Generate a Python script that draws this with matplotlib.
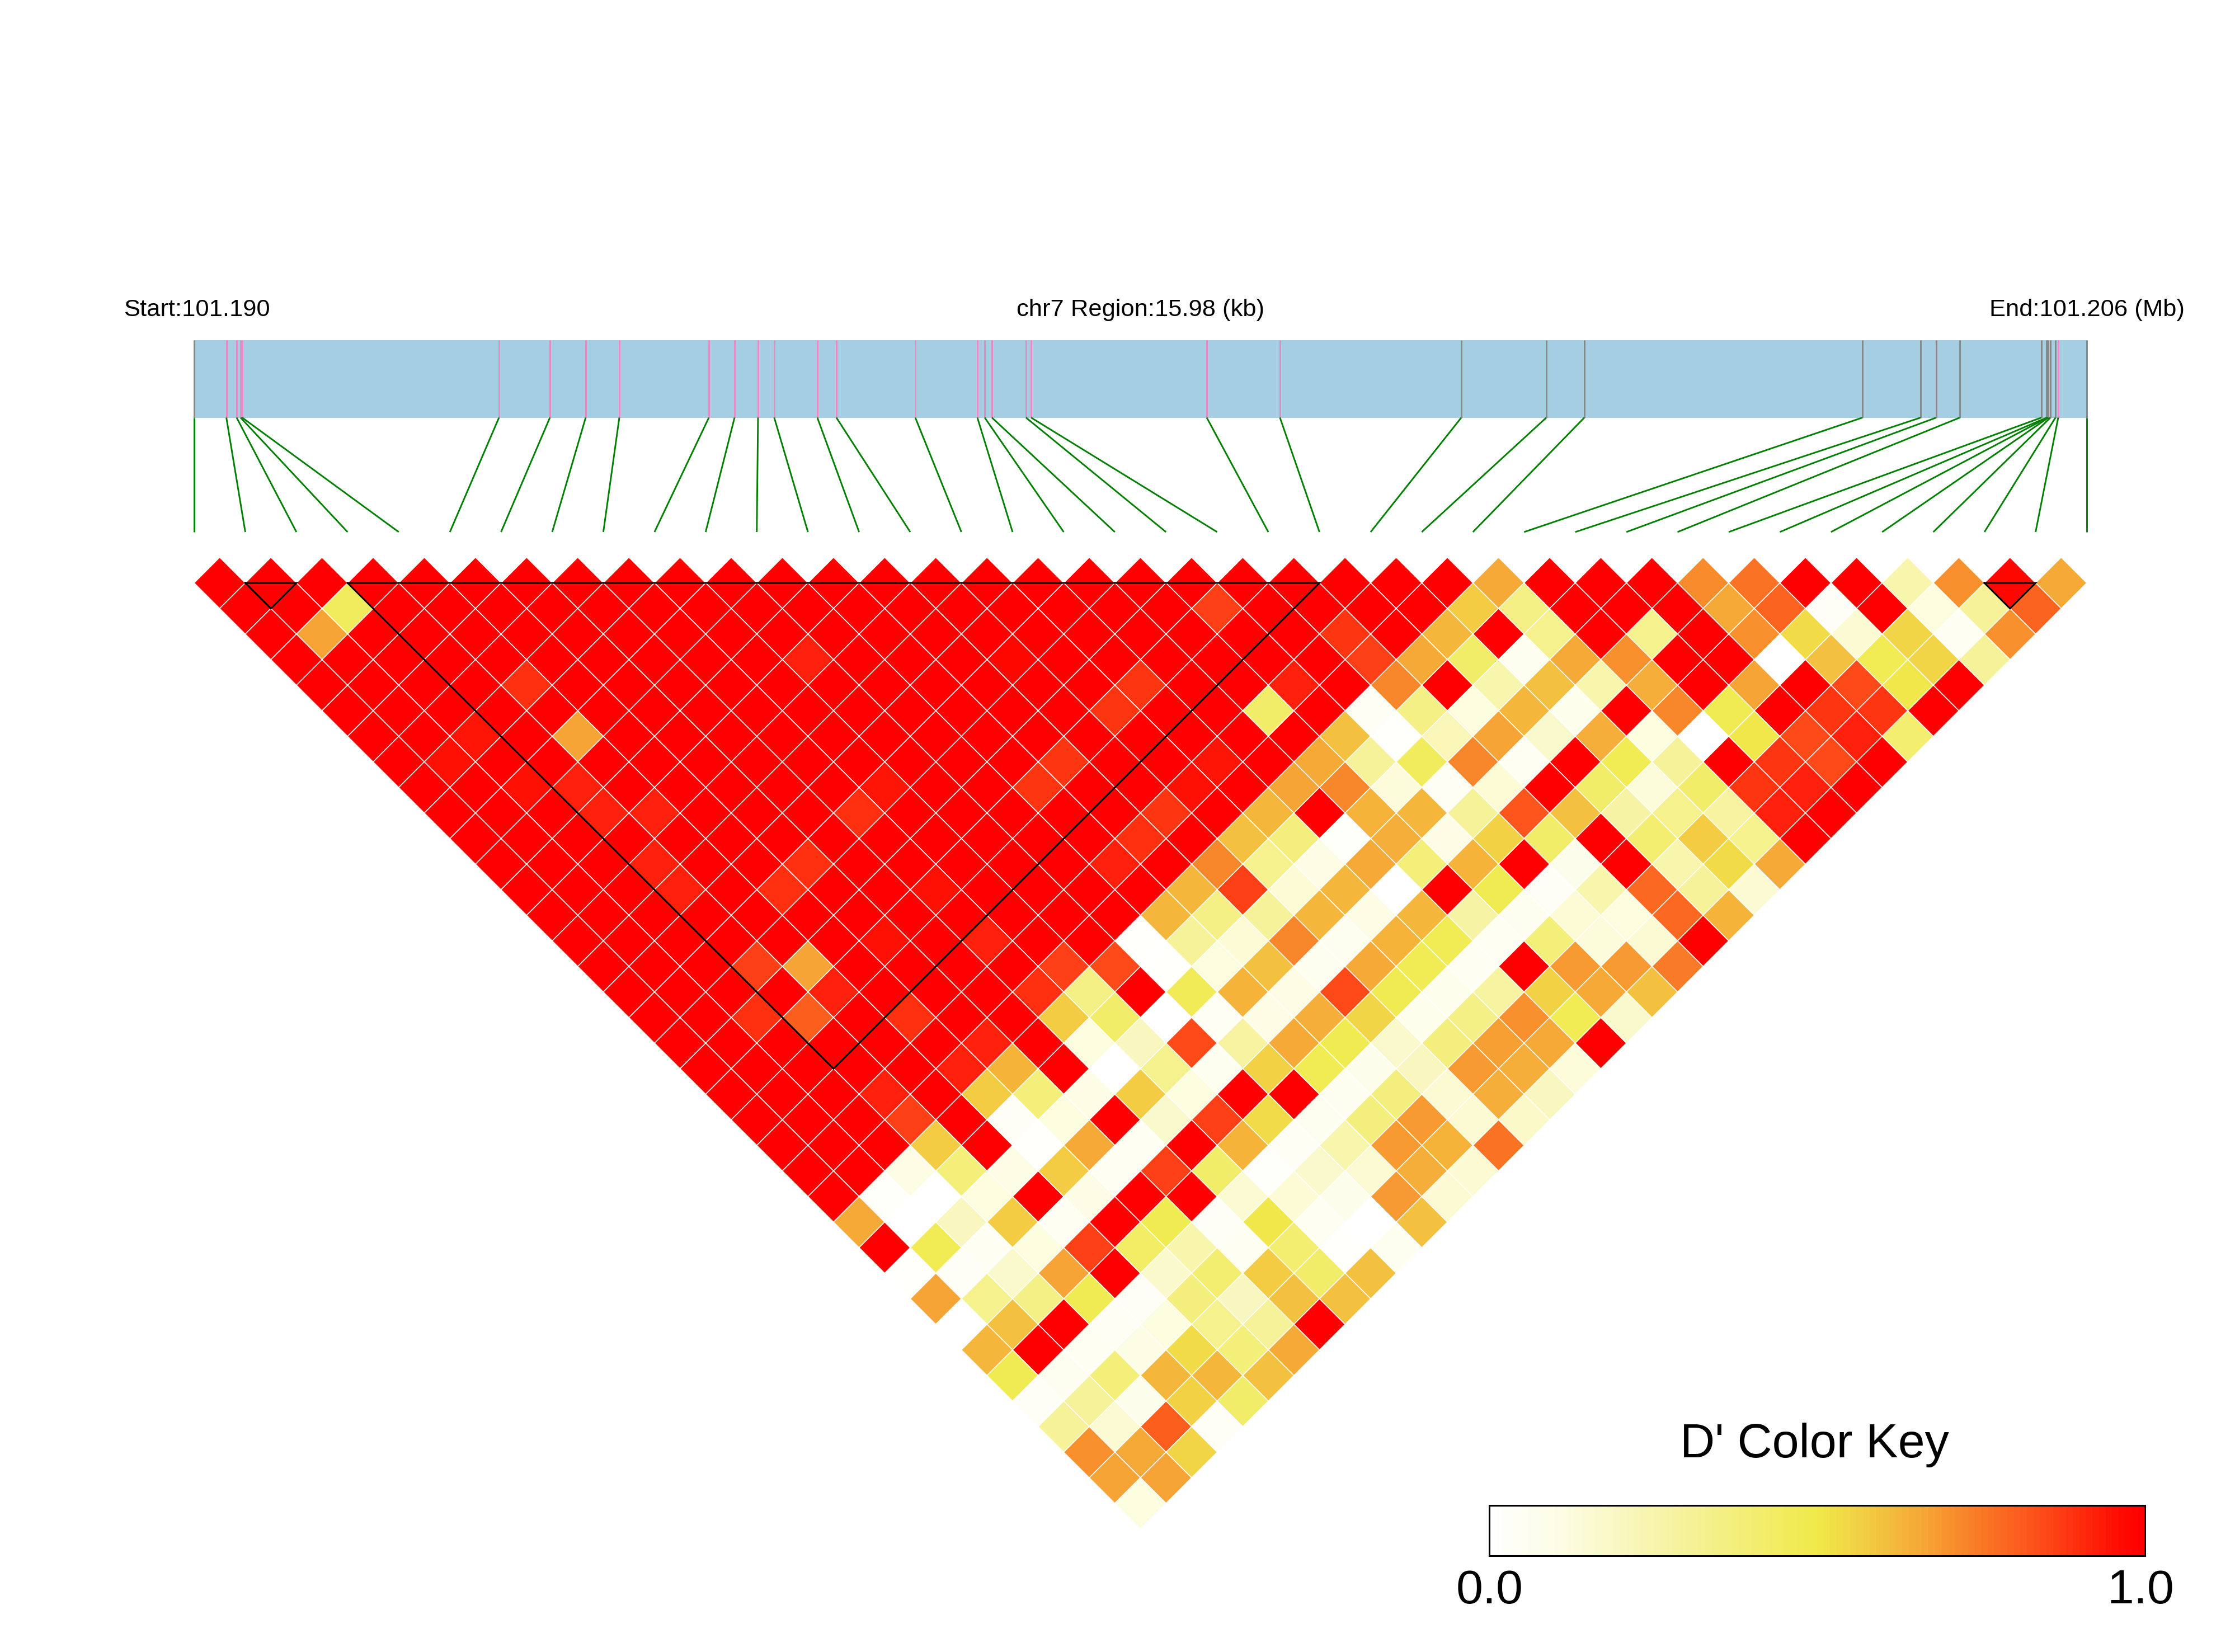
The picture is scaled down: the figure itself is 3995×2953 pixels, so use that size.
import numpy as np
import matplotlib
matplotlib.use('Agg')
import matplotlib.pyplot as plt
from matplotlib.collections import PolyCollection
from matplotlib.colors import LinearSegmentedColormap

W, H = 3995, 2953

# SNP positions along the region, kb from the start
snp_kb = [0.000, 0.272, 0.359, 0.392, 0.406, 2.574, 3.004, 3.306, 3.590, 4.346,
          4.563, 4.761, 4.898, 5.262, 5.423, 6.089, 6.613, 6.675, 6.736, 7.024,
          7.067, 8.550, 9.168, 10.699, 11.417, 11.738, 14.086, 14.577, 14.709, 14.908,
          15.597, 15.642, 15.649, 15.656, 15.673, 15.716, 15.739, 15.980]
region_kb = 15.98
# SNPs drawn grey on the gene bar, the others are pink
grey_snps = [0, 23, 24, 25, 26, 27, 28, 29, 30, 31, 32, 33, 34, 35, 37]

# D' by SNP distance: row k holds the pairs (t, t+k), t = 0, 1, 2 ...
r = 1.0
d01 = [r]*25 + [.65, r, r, r, .71, .76, r, r, .25, .70, .97, .65]
d02 = [r, r, .45] + [r]*16 + [.86] + [r]*4 + [.58, .35, r, r, r, .65, .79, .03, r, .12, .3, .79]
d03 = [r, .66] + [r]*19 + [.88, r, .62, r, .33, r, .33, r, .7, .53, .15, .55, .05, .7]
d04 = [r]*10 + [.92, r, r, r, .97] + [r]*6 + [.86, .65, .42, .06, .65, .7, r, r, 0, .6, .47, .55, .3]
d05 = [r]*4 + [.89] + [r]*11 + [.88, r, r, .92, r, .72, r, .25, .6, .25, .64, r, .66, r, .84, .5, r]
d06 = [r]*15 + [.88, r, r, .42, r, .04, .35, .12, .62, .07, r, .72, .48, r, .88, .88, r]
d07 = [r, r, .94, r, .66] + [r]*14 + [.6, .01, .22, .66, .17, .64, .12, 0, .5, .84, .92, .4]
d08 = [r, .95] + [r]*11 + [.88, r, r, .94, r] + [.65, .3, .45, .72, .05, r, .47, .3, r, .88, .84, r]
d09 = [r, r, .95, .92] + [r]*5 + [.94, r, r, .88, r, r, .95, r] + [.66, .72, .13, .04, .14, r, .42, .13, .42, .88, .92, r]
d10 = [r, r, r, .92, .92, r, r, r, .89, r, r, r, r, r, .88, r, .62, r, .63, .62, .3, .82, .6, .27, .33, .28, .92, r]
d11 = [r]*13 + [.89, r, .6, .37, .02, .64, .1, .56, .42, r, .4, .58, .33, r]
d12 = [r, r, r, .92, r, r, .89, r, r, r, r, r, .92, r, .72, .33, .1, .65, .38, .63, r, .08, r, .25, .53, .65]
d13 = [r, r, r, .92, r, .89, r, r, .95, r, r, r, r, .62, .86, .14, .62, 0, r, .48, .03, .25, .78, .3, .15]
d14 = [r]*12 + [.62, .35, .3, .62, .1, .62, .27, .06, .14, .12, .78, .63]
d15 = [r]*6 + [.95, r, .92, r, r, .01, .3, .14, .72, .06, .63, .47, .05, .38, .13, .15, r]
d16 = [r, r, r, .86, .66, r, r, r, r, .86, .84, .01, .12, .6, .06, .65, .47, .05, r, .68, .68, .74]
d17 = [r, r, r, r, .92, r, r, r, .89, .35, r, .46, .63, .1, .84, .48, .07, .28, .56, .65, .6]
d18 = [r, r, .89, .8, r, .89, r, r, .58, .42, 0, .04, .1, .64, .55, .07, .35, .7, .47, .17]
d19 = [r]*6 + [.92, r, .12, .2, .84, .28, .65, .48, .17, .37, .67, .65, r]
d20 = [r]*5 + [.92, .63, r, 0, .33, .06, .56, .47, .08, .2, .68, .64, .13]
d21 = [r, r, r, .92, r, .58, .38, .1, .58, .12, r, r, .06, .37, .15, .64, .2]
d22 = [r, r, r, .86, r, .03, .12, r, .17, .86, .53, .06, .37, .68, .15, .18]
d23 = [r, r, r, .58, r, .01, .65, .05, r, .63, .04, .25, .68, .63, .76]
d24 = [r, r, .1, .38, .1, .58, .05, .86, .42, .02, .17, .15, .64, .15]
d25 = [r, .02, 0, .12, r, .1, r, r, .15, .14, .08, .68, .15]
d26 = [.65, 0, .2, .58, .05, r, .48, .03, .5, .05, 0, .6]
d27 = [r, .47, .05, .12, .86, .43, .25, .05, .4, .01, .06]
d28 = [.01, .03, .17, .66, r, .17, .4, .58, .42, .6]
d29 = [.66, .33, .35, .48, .03, .37, .2, .6, .6]
d30 = [0, .6, r, .04, .12, .33, .3, r]
d31 = [.62, r, .05, .1, .53, .38, .65]
d32 = [.48, .06, .38, .62, .62, .6]
d33 = [.03, .3, .08, .57, .42]
d34 = [.3, .15, .8, .03]
d35 = [.7, .65, .55]
d36 = [.66, .66]
d37 = [.12]
dprime_rows = [d01, d02, d03, d04, d05, d06, d07, d08, d09, d10, d11, d12, d13,
               d14, d15, d16, d17, d18, d19, d20, d21, d22, d23, d24, d25, d26,
               d27, d28, d29, d30, d31, d32, d33, d34, d35, d36, d37]

# haplotype blocks as first and last SNP
blocks = [(1, 2), (3, 22), (35, 36)]

cmap = LinearSegmentedColormap.from_list('dprime', [
    (0.0, '#ffffff'), (0.1, '#fdfde6'), (0.3, '#f6f29a'), (0.5, '#f0ea4a'),
    (0.56, '#f2d346'), (0.65, '#f5ad38'), (0.74, '#f97f28'),
    (0.84, '#fd4f1a'), (0.97, '#ff0a02'), (1.0, '#ff0000')], N=100)

plt.rcParams['font.family'] = ['Liberation Sans', 'DejaVu Sans']
fig = plt.figure(figsize=(W/100, H/100), dpi=100)


def add_ax(x0, y0, x1, y1):
    # axes from pixel box of the picture
    ax = fig.add_axes([x0/W, 1-y1/H, (x1-x0)/W, (y1-y0)/H])
    ax.axis('off')
    return ax


# gene bar, kb scale
bar = add_ax(347, 607.5, 3730, 746.5)
bar.set_xlim(0, region_kb)
bar.set_ylim(0, 1)
bar.axvspan(0, region_kb, color='#a6cee3', lw=0)
for n, kb in enumerate(snp_kb):
    col = '#888888' if n in grey_snps else '#e78ac3'
    bar.axvline(kb, color=col, lw=2.1, clip_on=False, solid_capstyle='butt')

# connecting lines from the bar down to evenly spaced SNP slots
link = add_ax(347, 746.5, 3730, 951)
link.set_xlim(0, 1)
link.set_ylim(1, 0)
for n, kb in enumerate(snp_kb):
    link.plot([kb/region_kb, n/(len(snp_kb)-1)], [0, 1], color='#008000', lw=2.1,
              clip_on=False, solid_capstyle='butt')

# LD triangle, x in SNP slots and y in SNP distance
tri = add_ax(347, 996.3, 3730, 2732.9)
tri.set_xlim(0, len(snp_kb)-1)
tri.set_ylim(38, 0)
polys, vals = [], []
for k, row in enumerate(dprime_rows, start=1):
    for t, v in enumerate(row):
        cx = t + k/2
        polys.append([(cx-.5, k), (cx, k-1), (cx+.5, k), (cx, k+1)])
        vals.append(v)
cells = PolyCollection(polys, array=np.array(vals), cmap=cmap, edgecolors='white',
                       linewidths=1.1)
cells.set_clim(0, 1)
tri.add_collection(cells)
for a, b in blocks:
    size = b-a
    tri.plot([a, b, (a+b)/2, a], [1, 1, 1+size, 1], color='black', lw=2.2, clip_on=False,
             solid_joinstyle='miter')

# colour key
key = add_ax(2662, 2691, 3834, 2781)
key.axis('on')
key.imshow(np.linspace(0, 1, 100)[None, :], cmap=cmap, vmin=0, vmax=1, aspect='auto',
           extent=[0, 1, 0, 1], interpolation='nearest')
key.set_xticks([])
key.set_yticks([])
for s in key.spines.values():
    s.set_linewidth(2.2)

fs = 31.3
fig.text(221/W, 1-565/H, 'Start:101.190', fontsize=fs, ha='left', va='baseline')
fig.text(2039/W, 1-565/H, 'chr7 Region:15.98 (kb)', fontsize=fs, ha='center', va='baseline')
fig.text(3905/W, 1-565/H, 'End:101.206 (Mb)', fontsize=fs, ha='right', va='baseline')
fig.text(3243/W, 1-2605/H, "D' Color Key", fontsize=62, ha='center', va='baseline')
fig.text(2663/W, 1-2866/H, '0.0', fontsize=62, ha='center', va='baseline')
fig.text(3826/W, 1-2866/H, '1.0', fontsize=62, ha='center', va='baseline')

fig.savefig('out.png', dpi=100, facecolor='white')
